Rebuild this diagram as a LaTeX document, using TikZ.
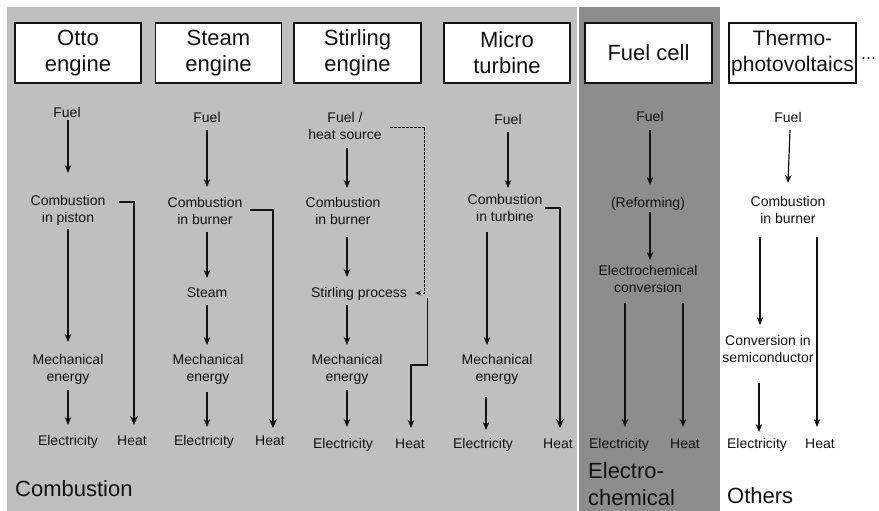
\documentclass[tikz,border=0pt]{standalone}
\usepackage{fontspec}
\setmainfont{Liberation Sans}
\usetikzlibrary{arrows.meta,calc}
\definecolor{lgray}{RGB}{191,191,191}
\definecolor{dgray}{RGB}{141,141,141}
\definecolor{ink}{RGB}{18,18,18}
\begin{document}
\begin{tikzpicture}[x=1pt,y=-1pt,
  lbl/.style={font=\fontsize{14}{17}\selectfont, inner sep=0pt, anchor=base, align=center, text=ink},
  titlebox/.style={draw=ink, line width=1.6pt, fill=white, minimum width=126pt, minimum height=60pt, inner sep=0pt, align=center, font=\fontsize{22}{26}\selectfont, text=ink},
  arr/.style={draw=ink, line width=1.2pt, -{Stealth[length=8pt,width=6.5pt]}},
  midarr/.style={draw=ink, line width=1.5pt, -{Stealth[length=8pt,width=6.5pt]}},
  heatarr/.style={draw=ink, line width=2.6pt, -{Stealth[length=9pt,width=8pt]}},
  dasharr/.style={draw=ink, line width=0.9pt, dashed, dash pattern=on 2.5pt off 1.5pt, -{Stealth[length=6pt,width=5pt]}},
  big/.style={font=\fontsize{22}{27}\selectfont, inner sep=0pt, anchor=base west, align=left, text=ink}
]
\useasboundingbox (0,0) rectangle (879,511);
% backgrounds
\fill[lgray] (7,7) rectangle (577,511);
\fill[dgray] (578.5,7) rectangle (720,511);

% title boxes
\node[titlebox] (b1) at (78,53) {Otto\\engine};
\node[titlebox] (b2) at (218.5,53) {Steam\\engine};
\node[titlebox, minimum width=127pt] (b3) at (357.5,53) {Stirling\\engine};
\node[titlebox] (b4) at (507,53) {Micro\\turbine};
\node[titlebox, minimum width=127pt] (b5) at (648.5,53) {Fuel cell};
\node[titlebox, minimum width=127pt, font=\fontsize{21}{26}\selectfont] (b6) at (792.5,53) {Thermo-\\photovoltaics};
\node[lbl, anchor=base west, font=\fontsize{18}{20}\selectfont] (dots) at (861,60) {...};

% Otto engine
\node[lbl] (ofuel) at (67,117.5) {Fuel};
\node[lbl] (ocomb) at (68,222.5) {Combustion\\in piston};
\node[lbl] (omech) at (68,381.5) {Mechanical\\energy};
\node[lbl] (oel) at (68,445.5) {Electricity};
\node[lbl] (oheat) at (132,445.5) {Heat};
\draw[arr] ($(ofuel.base)+(1,2.5)$) -- ($(ocomb.base)+(0,-49.5)$);
\draw[arr] ($(ocomb.base)+(0,6.5)$) -- ($(omech.base)+(0,-39.5)$);
\draw[arr] ($(omech.base)+(0,8.5)$) -- ($(oel.base)+(0,-20.5)$);
\draw[heatarr] ($(ocomb.base east)+(13,-20.5)$) -| ($(oheat.base)+(2,-20.5)$);

% Steam engine
\node[lbl] (sfuel) at (207,122.5) {Fuel};
\node[lbl] (scomb) at (205,224.5) {Combustion\\in burner};
\node[lbl] (ssteam) at (207,297.5) {Steam};
\node[lbl] (smech) at (208,381.5) {Mechanical\\energy};
\node[lbl] (sel) at (204,445.5) {Electricity};
\node[lbl] (sheat) at (270,445.5) {Heat};
\draw[arr] ($(sfuel.base)+(0,7.5)$) -- ($(scomb.base)+(2,-37.5)$);
\draw[arr] ($(scomb.base)+(2,7.5)$) -- ($(ssteam.base)+(0,-19.5)$);
\draw[arr] ($(ssteam.base)+(0,7.5)$) -- ($(smech.base)+(-1,-36.5)$);
\draw[arr] ($(smech.base)+(-1,10.5)$) -- ($(sel.base)+(3,-18.5)$);
\draw[heatarr] ($(scomb.base east)+(7.6,-14.5)$) -| ($(sheat.base)+(3,-17.5)$);

% Stirling engine
\node[lbl] (tfuel) at (345,139.5) {Fuel /\\heat source};
\node[lbl] (tcomb) at (343,224.5) {Combustion\\in burner};
\node[lbl] (tstir) at (359,297.5) {Stirling process};
\node[lbl] (tmech) at (347,381.5) {Mechanical\\energy};
\node[lbl] (tel) at (343,448.5) {Electricity};
\node[lbl] (theat) at (410,448.5) {Heat};
\draw[arr] ($(tfuel.base)+(2,8.5)$) -- ($(tcomb.base)+(4,-36.5)$);
\draw[arr] ($(tcomb.base)+(4,12.5)$) -- ($(tstir.base)+(-12,-20.5)$);
\draw[arr] ($(tstir.base)+(-12,7.5)$) -- ($(tmech.base)+(0,-36.5)$);
\draw[arr] ($(tmech.base)+(0,8.5)$) -- ($(tel.base)+(4,-21.5)$);
\draw[dasharr] ($(tfuel.base east)+(8.4,-12.5)$) -- ++(34.6,0) |- ($(tstir.base east)+(8.2,-4.5)$);
\draw[midarr] ($(tstir.base east)+(20.2,0.5)$) -- ++(0,67) -| ($(theat.base)+(1,-20.5)$);

% Micro turbine
\node[lbl] (mfuel) at (508,124.5) {Fuel};
\node[lbl] (mcomb) at (505,221.5) {Combustion\\in turbine};
\node[lbl] (mmech) at (497,381.5) {Mechanical\\energy};
\node[lbl] (mel) at (483,448.5) {Electricity};
\node[lbl] (mheat) at (558,448.5) {Heat};
\draw[arr] ($(mfuel.base)+(0,7.5)$) -- ($(mcomb.base)+(3,-33.5)$);
\draw[arr] ($(mcomb.base)+(-18,10.5)$) -- ($(mmech.base)+(-10,-36.5)$);
\draw[arr] ($(mmech.base)+(-11,15.5)$) -- ($(mel.base)+(3,-18.5)$);
\draw[heatarr] ($(mcomb.base east)+(2.6,-13.5)$) -| ($(mheat.base)+(2,-20.5)$);

% Fuel cell
\node[lbl] (ffuel) at (650,121.5) {Fuel};
\node[lbl] (fref) at (648,207.5) {(Reforming)};
\node[lbl] (fconv) at (648,292.5) {Electrochemical\\conversion};
\node[lbl] (fel) at (619,448.5) {Electricity};
\node[lbl] (fheat) at (685,448.5) {Heat};
\draw[midarr] ($(ffuel.base)+(0,8.5)$) -- ($(fref.base)+(2,-22.5)$);
\draw[midarr] ($(fref.base)+(2,4.5)$) -- ($(fconv.base)+(2,-32.5)$);
\draw[midarr] ($(fconv.base)+(-23,10.5)$) -- ($(fel.base)+(6,-21.5)$);
\draw[midarr] ($(fconv.base)+(35,10.5)$) -- ($(fheat.base)+(-2,-21.5)$);

% Thermophotovoltaics
\node[lbl] (rfuel) at (788,122.5) {Fuel};
\node[lbl] (rcomb) at (788,223.5) {Combustion\\in burner};
\node[lbl] (rconv) at (768,362.5) {Conversion in\\semiconductor};
\node[lbl] (rel) at (757,448.5) {Electricity};
\node[lbl] (rheat) at (820,448.5) {Heat};
\draw[arr] ($(rfuel.base)+(2,7.5)$) -- ($(rcomb.base)+(0,-40.5)$);
\draw[arr] ($(rcomb.base)+(-28,13.5)$) -- ($(rconv.base)+(-8,-37.5)$);
\draw[arr] ($(rcomb.base)+(29,13.5)$) -- ($(rheat.base)+(-3,-21.5)$);
\draw[arr] ($(rconv.base)+(-9,20.5)$) -- ($(rel.base)+(2,-16.5)$);

% category labels
\node[big] (lcomb) at (15,496) {Combustion};
\node[big] (lelec) at (588,505) {Electro-\\chemical};
\node[big] (loth) at (727,503) {Others};
\end{tikzpicture}
\end{document}
